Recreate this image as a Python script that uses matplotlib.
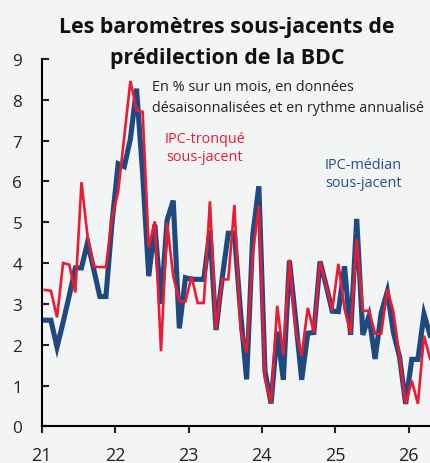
import numpy as np
import matplotlib.pyplot as plt

# monthly rates, Jan 2021 onwards (% m/m, annualised)
tronque = [3.34, 3.32, 2.67, 4.0, 3.96, 3.28, 5.98, 4.65, 3.91, 3.9, 3.9, 5.1,
           5.75, 7.1, 8.46, 7.74, 7.7, 4.39, 5.02, 1.84, 4.98, 3.68, 3.06, 3.06,
           3.67, 3.02, 3.02, 5.51, 2.38, 3.6, 3.6, 5.42, 2.38, 1.8, 4.2, 5.4,
           1.16, 0.58, 2.95, 1.74, 4.08, 2.37, 1.74, 2.9, 2.3, 4.04, 3.45, 2.84,
           3.98, 2.88, 2.27, 4.59, 2.83, 2.83, 2.27, 2.27, 3.36, 2.8, 1.7, 0.55,
           1.12, 0.55, 2.22, 1.65]
median = [2.6, 2.6, 1.94, 2.55, 3.2, 3.88, 3.88, 4.51, 3.85, 3.18, 3.18, 5.0,
          6.43, 6.36, 7.04, 8.27, 6.2, 3.68, 4.94, 3.0, 5.05, 5.53, 2.4, 3.64,
          3.6, 3.6, 3.6, 4.8, 2.36, 3.63, 4.73, 4.73, 2.8, 1.15, 4.68, 5.88,
          1.35, 0.56, 2.32, 1.14, 4.06, 2.64, 1.14, 2.28, 2.3, 4.04, 3.45, 2.82,
          2.81, 3.92, 2.24, 5.08, 2.24, 2.7, 1.65, 2.77, 3.3, 2.3, 1.7, 0.55,
          1.64, 1.64, 2.75, 2.23]
years = [21, 22, 23, 24, 25, 26]
yticks = list(range(10))

# mid-month positions in year units
x = 21 + (np.arange(len(tronque)) + 0.5) / 12

RED = '#ec1b34'
BLUE = '#1e4a80'
BG = '#f3f4f4'

plt.rcParams['font.family'] = ['Open Sans', 'DejaVu Sans']

fig = plt.figure(figsize=(4.3, 4.64), dpi=100, facecolor=BG)
ax = fig.add_axes([0.097, 0.079, 0.903, 0.792])
ax.set_facecolor(BG)

ax.plot(x, median, color=BLUE, lw=3.7, solid_joinstyle='miter', zorder=2)
ax.plot(x, tronque, color=RED, lw=1.9, solid_joinstyle='miter', zorder=3)

ax.set_xlim(21, 26.29)
ax.set_ylim(0, 9)
ax.set_xticks(years)
ax.set_xticklabels([str(y) for y in years])
ax.set_yticks(yticks)

for s in ['top', 'right']:
    ax.spines[s].set_visible(False)
for s in ['left', 'bottom']:
    ax.spines[s].set_linewidth(1.5)
    ax.spines[s].set_color('black')

ax.tick_params(axis='y', direction='in', length=5, width=1.5, pad=14,
               labelsize=12.3, colors='#222222')
ax.tick_params(axis='x', direction='out', length=5, width=1.5, pad=9,
               labelsize=13, colors='#222222')

# titles
fig.text(0.528, 0.929, 'Les baromètres sous-jacents de', ha='center',
         va='baseline', fontsize=15.4, fontweight='bold', color='#111111')
fig.text(0.528, 0.862, 'prédilection de la BDC', ha='center',
         va='baseline', fontsize=15.4, fontweight='bold', color='#111111')
fig.text(0.3535, 0.804, 'En % sur un mois, en données', ha='left',
         va='baseline', fontsize=10.4, color='#222222')
fig.text(0.3535, 0.759, 'désaisonnalisées et en rythme annualisé', ha='left',
         va='baseline', fontsize=10.4, color='#222222')

# series labels
ax.text(23.22, 6.83, 'IPC-tronqué\nsous-jacent', color=RED, ha='center',
        va='center', fontsize=10.4, linespacing=1.25)
ax.text(25.38, 6.2, 'IPC-médian\nsous-jacent', color='#24508a', ha='center',
        va='center', fontsize=10.4, linespacing=1.25)

fig.savefig('out.png', dpi=100, facecolor=BG)
